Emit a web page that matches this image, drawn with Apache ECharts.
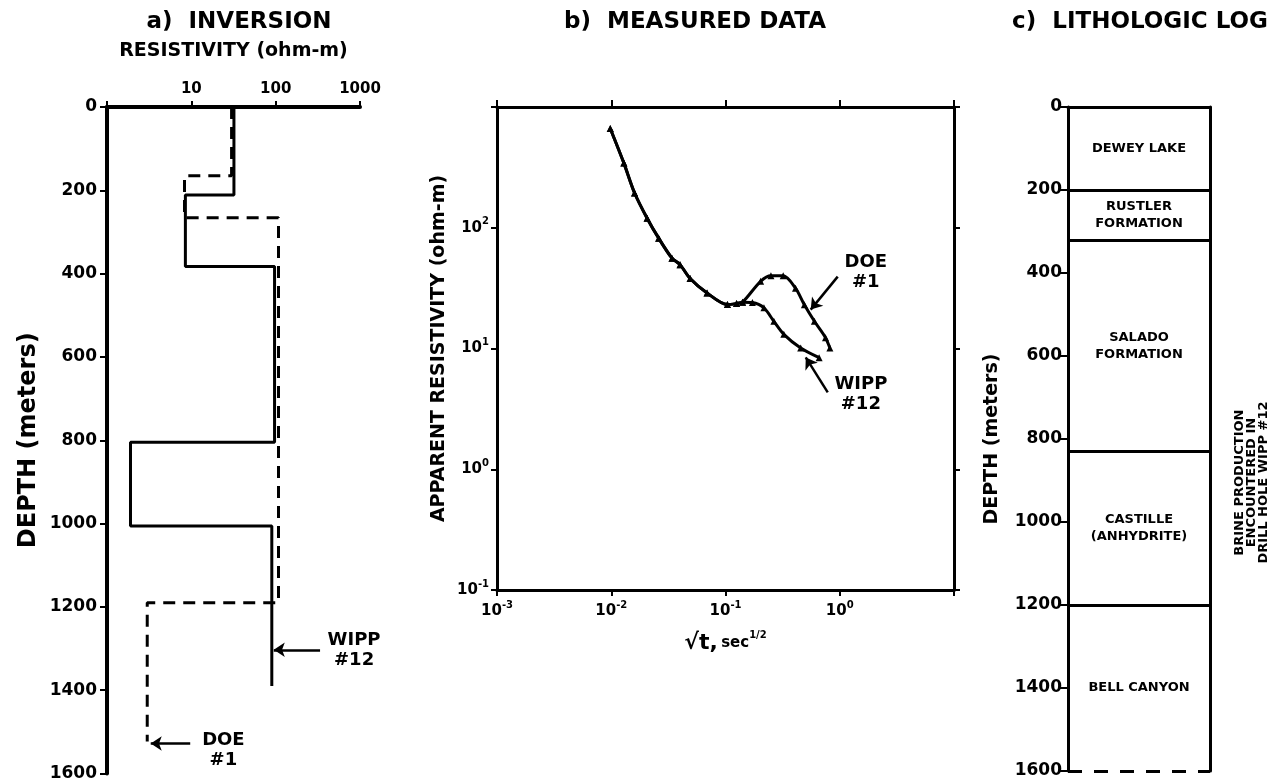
<!DOCTYPE html>
<html><head><meta charset="utf-8">
<script src="https://cdn.jsdelivr.net/npm/echarts@6/dist/echarts.min.js"></script>
<style>html,body{margin:0;padding:0;background:#fff}#c{width:1277px;height:782px}</style>
</head><body><div id="c"></div>
<script>
const FONT = 'DejaVu Sans';
const K = '#000';

// ---- Panel a: inversion (layered resistivity models) ----
const wippRes = [32, 8.5, 97, 1.9, 90];
const wippBounds = [0, 211, 383, 805, 1006, 1390];
const doeRes = [30, 8.3, 108, 3.0];
const doeBounds = [0, 165, 266, 1190, 1523];
const resTickLabels = [10, 100, 1000];
const depthMax = 1600, depthStep = 200;

// ---- Panel b: measured apparent resistivity vs sqrt(t) ----
const commonT   = [0.0098, 0.0129, 0.016, 0.0206, 0.026, 0.034, 0.040, 0.049, 0.069, 0.104, 0.125, 0.141];
const commonRho = [664, 343, 194, 120, 82, 56, 49.5, 38, 28.8, 23.1, 23.6, 24.2];
const doeT   = [0.203, 0.25, 0.32, 0.41, 0.49, 0.60, 0.75, 0.82];
const doeRho = [36, 40, 40, 31.6, 23, 16.8, 12.3, 10.1];
const wippT   = [0.172, 0.217, 0.265, 0.324, 0.455, 0.66];
const wippRho = [24.0, 21.7, 16.8, 13.1, 10.1, 8.4];
const bXExponents = [-3, -2, -1, 0];
const bYExponents = [-1, 0, 1, 2];

// ---- Panel c: lithologic log ----
const units = ['DEWEY LAKE', 'RUSTLER\nFORMATION', 'SALADO\nFORMATION', 'CASTILLE\n(ANHYDRITE)', 'BELL CANYON'];
const unitBounds = [0, 200, 320, 830, 1200, 1600];
const brineInner = [800, 1010];
const brineOuter = [625, 1200];
const brineText = 'BRINE PRODUCTION\nENCOUNTERED IN\nDRILL HOLE WIPP #12';

function stepProfile(res, b) {
  const out = [];
  res.forEach((r, i) => { out.push([r, b[i]]); out.push([r, b[i + 1]]); });
  return out;
}
function pairs(xs, ys) { return xs.map((x, i) => [x, ys[i]]); }
const T = (size, extra) => Object.assign({ color: K, fontFamily: FONT, fontWeight: 'bold', fontSize: size }, extra || {});
const supRich = {
  b: { fontSize: 15, fontWeight: 'bold', fontFamily: FONT, color: K, lineHeight: 22 },
  s: { fontSize: 10, fontWeight: 'bold', fontFamily: FONT, color: K, verticalAlign: 'top', lineHeight: 12 }
};
const supFmt = (shown) => v => {
  const e = Math.round(Math.log10(v));
  return shown.includes(e) ? '{b|10}{s|' + e + '}' : '';
};
const plain = v => String(Math.round(v));
const noSplit = { show: false };
const textLabel = (size, lh, extra) => Object.assign({ show: true, position: 'inside', formatter: '{b}', opacity: 1,
  textBorderWidth: 0 }, T(size), { lineHeight: lh }, extra || {});

const chart = echarts.init(document.getElementById('c'));
chart.setOption({
  animation: false,
  backgroundColor: '#fff',
  title: [
    { text: 'a)  INVERSION', left: 234, top: 6, textAlign: 'center', textStyle: T(23) },
    { text: 'b)  MEASURED DATA', left: 690, top: 6, textAlign: 'center', textStyle: T(23) },
    { text: 'c)  LITHOLOGIC LOG', left: 1135, top: 6, textAlign: 'center', textStyle: T(23) }
  ],
  grid: [
    { left: 107, top: 107, width: 253, height: 668 },
    { left: 497, top: 107, width: 457, height: 483 },
    { left: 1068, top: 107, width: 142, height: 664 }
  ],
  xAxis: [
    { gridIndex: 0, type: 'log', logBase: 10, min: 1, max: 1000, position: 'top',
      axisLine: { onZero: false, lineStyle: { color: K, width: 4 } },
      axisTick: { show: true, length: 6, lineStyle: { color: K, width: 2 } },
      minorTick: { show: false }, splitLine: noSplit,
      axisLabel: { ...T(15), margin: 10, formatter: v => resTickLabels.includes(Math.round(v)) ? String(Math.round(v)) : '' },
      name: 'RESISTIVITY (ohm-m)', nameLocation: 'middle', nameGap: 46, nameTextStyle: T(19) },
    { gridIndex: 1, type: 'log', logBase: 10, min: 0.001, max: 10, position: 'bottom',
      axisLine: { onZero: false, lineStyle: { color: K, width: 3 } },
      axisTick: { show: true, length: 6, lineStyle: { color: K, width: 2 } },
      splitLine: noSplit,
      axisLabel: { margin: 10, formatter: supFmt(bXExponents), rich: supRich },
      name: '{r|√t,} {u|sec}{p|1/2}', nameLocation: 'middle', nameGap: 40,
      nameTextStyle: { rich: {
        r: { fontSize: 22, fontFamily: FONT, fontWeight: 'bold', color: K, lineHeight: 26 },
        u: { fontSize: 15, fontFamily: FONT, fontWeight: 'bold', color: K },
        p: { fontSize: 10, fontFamily: FONT, fontWeight: 'bold', color: K, verticalAlign: 'top', lineHeight: 14 } } } },
    { gridIndex: 1, type: 'log', logBase: 10, min: 0.001, max: 10, position: 'top',
      axisLine: { onZero: false, lineStyle: { color: K, width: 3 } },
      axisTick: { show: true, length: 7, lineStyle: { color: K, width: 2 } },
      splitLine: noSplit, axisLabel: { show: false } },
    { gridIndex: 2, type: 'value', min: 0, max: 1, position: 'top',
      axisLine: { onZero: false, lineStyle: { color: K, width: 3 } },
      axisTick: { show: false }, splitLine: noSplit, axisLabel: { show: false } }
  ],
  yAxis: [
    { gridIndex: 0, type: 'value', min: 0, max: depthMax, interval: depthStep, inverse: true, position: 'left',
      axisLine: { onZero: false, lineStyle: { color: K, width: 4 } },
      axisTick: { show: true, length: 7, lineStyle: { color: K, width: 2 } },
      splitLine: noSplit, axisLabel: { ...T(17), margin: 10, formatter: plain },
      name: 'DEPTH (meters)', nameLocation: 'middle', nameGap: 66, nameRotate: 90, nameTextStyle: T(24) },
    { gridIndex: 1, type: 'log', logBase: 10, min: 0.1, max: 1000, position: 'left',
      axisLine: { onZero: false, lineStyle: { color: K, width: 3 } },
      axisTick: { show: true, length: 6, lineStyle: { color: K, width: 2 } },
      splitLine: noSplit,
      axisLabel: { margin: 8, formatter: supFmt(bYExponents), rich: supRich },
      name: 'APPARENT RESISTIVITY (ohm-m)', nameLocation: 'middle', nameGap: 48, nameRotate: 90, nameTextStyle: T(19) },
    { gridIndex: 1, type: 'log', logBase: 10, min: 0.1, max: 1000, position: 'right',
      axisLine: { onZero: false, lineStyle: { color: K, width: 3 } },
      axisTick: { show: true, length: 6, lineStyle: { color: K, width: 2 } },
      splitLine: noSplit, axisLabel: { show: false } },
    { gridIndex: 2, type: 'value', min: 0, max: depthMax, interval: depthStep, inverse: true, position: 'left',
      axisLine: { onZero: false, lineStyle: { color: K, width: 3 } },
      axisTick: { show: true, length: 8, lineStyle: { color: K, width: 2 } },
      splitLine: noSplit, axisLabel: { ...T(17), margin: 6, formatter: plain },
      name: 'DEPTH (meters)', nameLocation: 'middle', nameGap: 66, nameRotate: 90, nameTextStyle: T(19) },
    { gridIndex: 2, type: 'value', min: 0, max: depthMax, inverse: true, position: 'right',
      axisLine: { onZero: false, lineStyle: { color: K, width: 3 } },
      axisTick: { show: false }, splitLine: noSplit, axisLabel: { show: false } }
  ],
  series: [
    // Panel a
    { type: 'line', xAxisIndex: 0, yAxisIndex: 0, data: stepProfile(wippRes, wippBounds),
      symbol: 'none', lineStyle: { color: K, width: 3 },
      markLine: { silent: true, symbol: ['none', 'arrow'], symbolSize: 11, label: { show: false },
        lineStyle: { color: K, width: 2.5, type: 'solid' },
        data: [
          [{ coord: [336, 1303] }, { coord: [95, 1303] }],
          [{ coord: [9.7, 1528] }, { coord: [3.3, 1528] }]
        ] } },
    { type: 'line', xAxisIndex: 0, yAxisIndex: 0, data: stepProfile(doeRes, doeBounds),
      symbol: 'none', lineStyle: { color: K, width: 3, type: [12, 8] } },
    { type: 'scatter', xAxisIndex: 0, yAxisIndex: 0, symbolSize: 0, silent: true, clip: false,
      itemStyle: { opacity: 1 },
      data: [{ name: 'WIPP\n#12', value: [851, 1305] }, { name: 'DOE\n#1', value: [24, 1545] }],
      label: textLabel(18, 20) },
    // Panel b
    { type: 'line', xAxisIndex: 1, yAxisIndex: 1, smooth: 0.3,
      data: pairs(commonT.concat(doeT), commonRho.concat(doeRho)),
      symbol: 'triangle', symbolSize: 7, itemStyle: { color: K }, lineStyle: { color: K, width: 3 },
      markLine: { silent: true, symbol: ['none', 'arrow'], symbolSize: 11, label: { show: false },
        lineStyle: { color: K, width: 2.5, type: 'solid' },
        data: [
          [{ coord: [0.96, 39.4] }, { coord: [0.557, 21] }],
          [{ coord: [0.785, 4.33] }, { coord: [0.504, 8.43] }]
        ] } },
    { type: 'line', xAxisIndex: 1, yAxisIndex: 1, smooth: 0.3,
      data: pairs(commonT.concat(wippT), commonRho.concat(wippRho)),
      symbol: 'triangle', symbolSize: 7, itemStyle: { color: K }, lineStyle: { color: K, width: 3 } },
    { type: 'scatter', xAxisIndex: 1, yAxisIndex: 1, symbolSize: 0, silent: true, clip: false,
      itemStyle: { opacity: 1 },
      data: [{ name: 'DOE\n#1', value: [1.69, 42.5] }, { name: 'WIPP\n#12', value: [1.53, 4.17] }],
      label: textLabel(18, 20) },
    // Panel c
    { type: 'scatter', xAxisIndex: 3, yAxisIndex: 3, symbolSize: 0, silent: true,
      itemStyle: { opacity: 1 },
      data: units.map((u, i) => ({ name: u, value: [0.5, (unitBounds[i] + unitBounds[i + 1]) / 2] })),
      label: textLabel(13, 17),
      markLine: { silent: true, symbol: 'none', label: { show: false },
        lineStyle: { color: K, width: 3, type: 'solid' },
        data: unitBounds.slice(1, -1).map(d => ({ yAxis: d }))
          .concat([{ yAxis: unitBounds[unitBounds.length - 1], lineStyle: { type: [14, 12], width: 3, color: K } }]) } },
    { type: 'line', xAxisIndex: 3, yAxisIndex: 3, clip: false, symbol: 'none', silent: true,
      lineStyle: { color: K, width: 2.5 },
      data: [[1.5, brineOuter[0]], [1.12, brineOuter[0]], [1.04, brineInner[0] - 5], [1.0, brineInner[0]]] },
    { type: 'line', xAxisIndex: 3, yAxisIndex: 3, clip: false, symbol: 'none', silent: true,
      lineStyle: { color: K, width: 2.5 },
      data: [[1.0, brineInner[1]], [1.055, brineInner[1]], [1.127, brineOuter[1]], [1.5, brineOuter[1]]] },
    { type: 'scatter', xAxisIndex: 3, yAxisIndex: 3, symbolSize: 0, silent: true, clip: false,
      itemStyle: { opacity: 1 },
      data: [{ name: brineText, value: [1.296, 905] }],
      label: textLabel(13, 12, { rotate: 90 }) }
  ]
});
</script></body></html>
